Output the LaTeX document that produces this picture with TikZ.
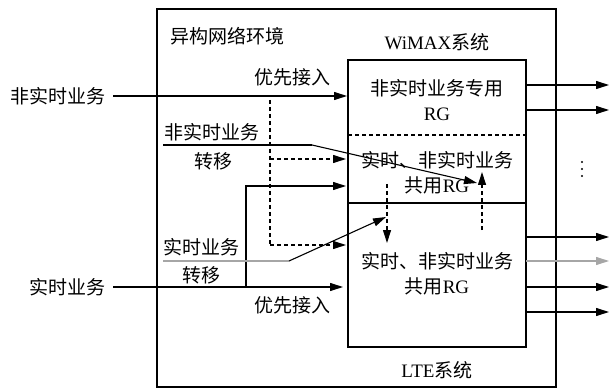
\documentclass[tikz,border=0pt]{standalone}
\usepackage{fontspec}
\setmainfont{Liberation Serif}
\newfontfamily\cjk{Noto Sans CJK SC}
\usetikzlibrary{arrows.meta}
\begin{document}
\begin{tikzpicture}[x=1pt,y=-1pt,
  every node/.style={font=\fontsize{19}{25}\selectfont, inner sep=0pt, align=center},
  ln/.style={line width=1.1pt},
  arr/.style={line width=1.1pt,-{Triangle[length=13pt,width=8pt]}},
  darr/.style={line width=1.1pt,dash pattern=on 4pt off 3pt,-{Triangle[length=13pt,width=8pt]}},
  dln/.style={line width=1.1pt,dash pattern=on 4pt off 3pt},
  gry/.style={line width=1.1pt,gray!70}]
\useasboundingbox (0,0) rectangle (610,390);
% boxes
\draw[line width=1.5pt] (157,9) rectangle (556,387);
\draw[line width=1.5pt] (348,60) rectangle (526,347);
\draw[line width=1.5pt] (348,203) -- (526,203);
\draw[dln] (348,135) -- (526,135);
% titles
\node (env) at (227,36) {\cjk 异构网络环境};
\node (wimax) at (437,42) {WiMAX{\cjk 系统}};
\node (lte) at (437,370) {LTE{\cjk 系统}};
\node (rg1) at (437,100) {{\cjk 非实时业务专用}\\RG};
\node (rg2) at (437,173) {{\cjk 实时、非实时业务}\\{\cjk 共用}RG};
\node (rg3) at (437,274) {{\cjk 实时、非实时业务}\\{\cjk 共用}RG};
% left inputs
\node[anchor=east] (nrt) at (106,96) {\cjk 非实时业务};
\node[anchor=east] (rt) at (106,287) {\cjk 实时业务};
\node (pri1) at (292,77) {\cjk 优先接入};
\node (pri2) at (292,305) {\cjk 优先接入};
\node (nrtt) at (212,132) {\cjk 非实时业务};
\node (nrtm) at (213,161) {\cjk 转移};
\node (rtt) at (201,247) {\cjk 实时业务};
\node (rtm) at (201,275) {\cjk 转移};
% coordinates
\coordinate (a1) at (113,96);  \coordinate (a2) at (347,96);
\coordinate (b1) at (113,287); \coordinate (b2) at (343,287);
\coordinate (c1) at (163,145); \coordinate (c2) at (312,145); \coordinate (c3) at (477,183);
\coordinate (d0) at (270,100); \coordinate (d1) at (270,159); \coordinate (d2) at (346,159);
\coordinate (d3) at (270,245); \coordinate (d4) at (346,245);
\coordinate (e0) at (246,287); \coordinate (e1) at (246,186); \coordinate (e2) at (346,186);
\coordinate (f1) at (163,261); \coordinate (f2) at (289,261); \coordinate (f3) at (386,217);
\coordinate (g1) at (387,184); \coordinate (g2) at (387,243);
\coordinate (h1) at (482,230); \coordinate (h2) at (482,172);
\draw[arr] (a1) -- (a2);
\draw[arr] (b1) -- (b2);
\draw[ln] (c1) -- (c2);
\draw[arr] (c2) -- (c3);
\draw[dln] (d0) -- (d3);
\draw[darr] (d1) -- (d2);
\draw[darr] (d3) -- (d4);
\draw[arr] (e0) -- (e1) -- (e2);
\draw[gry] (f1) -- (f2);
\draw[arr] (f2) -- (f3);
\draw[darr] (g1) -- (g2);
\draw[darr] (h1) -- (h2);
% outputs
\foreach \y/\n in {85/o1,110/o2,237/o3,287/o5,312/o6}{
  \coordinate (\n s) at (526,\y); \coordinate (\n e) at (609,\y);
  \draw[arr] (\n s) -- (\n e);
}
\coordinate (o4s) at (526,261); \coordinate (o4e) at (609,261);
\draw[line width=1.1pt,gray!70,-{Triangle[length=13pt,width=8pt]}] (o4s) -- (o4e);
\foreach \y in {162,169,176} \fill (582,\y) circle (1.2pt);
\end{tikzpicture}
\end{document}
